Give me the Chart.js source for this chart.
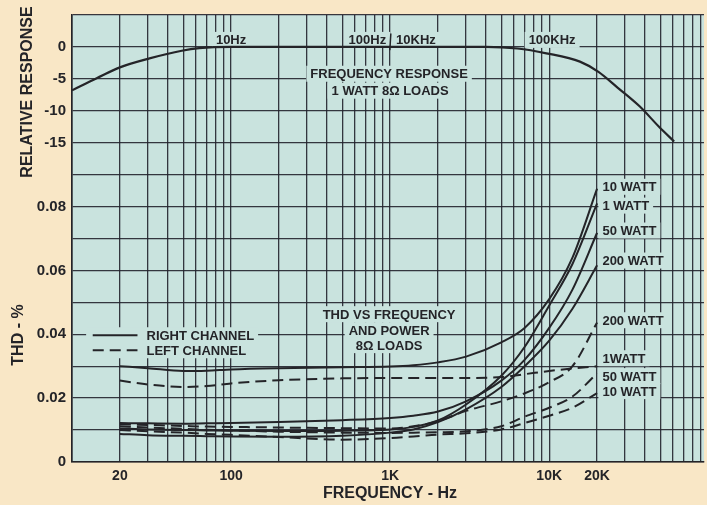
<!DOCTYPE html>
<html>
<head>
<meta charset="utf-8">
<script src="https://cdn.jsdelivr.net/npm/chart.js@4.4.1/dist/chart.umd.min.js"></script>
<style>
  html, body { margin: 0; padding: 0; background: #f9e7c6; }
  canvas { display: block; }
</style>
</head>
<body>
<canvas id="thdChart" width="707" height="505"></canvas>
<script>
// ---- data ----
// THD curves share one set of frequencies (Hz)
const thdFreq = [20, 30, 50, 70, 100, 200, 500, 1000, 1400, 2000, 3000, 5000, 7000, 10000, 14000, 20000];

// right channel (solid)
const right10W  = [0.0300, 0.0294, 0.0285, 0.0286, 0.0290, 0.0294, 0.0297, 0.0299, 0.0303, 0.0312, 0.0330, 0.0375, 0.0420, 0.0510, 0.0640, 0.0856];
const right1W   = [0.0105, 0.0102, 0.0100, 0.0099, 0.0098, 0.0097, 0.0098, 0.0102, 0.0110, 0.0130, 0.0180, 0.0270, 0.0360, 0.0490, 0.0620, 0.0810];
const right50W  = [0.0122, 0.0121, 0.0120, 0.0121, 0.0122, 0.0125, 0.0131, 0.0138, 0.0145, 0.0158, 0.0190, 0.0255, 0.0320, 0.0420, 0.0540, 0.0718];
const right200W = [0.0088, 0.0084, 0.0082, 0.0081, 0.0080, 0.0079, 0.0082, 0.0092, 0.0102, 0.0125, 0.0165, 0.0235, 0.0300, 0.0380, 0.0480, 0.0616];

// left channel (dashed)
const left1W    = [0.0255, 0.0243, 0.0235, 0.0238, 0.0246, 0.0256, 0.0262, 0.0263, 0.0263, 0.0263, 0.0263, 0.0266, 0.0275, 0.0285, 0.0293, 0.0300];
const left200W  = [0.0118, 0.0116, 0.0113, 0.0111, 0.0110, 0.0108, 0.0106, 0.0105, 0.0112, 0.0128, 0.0160, 0.0190, 0.0215, 0.0250, 0.0300, 0.0437];
const left50W   = [0.0112, 0.0108, 0.0104, 0.0101, 0.0099, 0.0095, 0.0092, 0.0091, 0.0092, 0.0093, 0.0096, 0.0112, 0.0142, 0.0170, 0.0205, 0.0278];
const left10W   = [0.0100, 0.0096, 0.0092, 0.0088, 0.0085, 0.0078, 0.0070, 0.0075, 0.0080, 0.0086, 0.0090, 0.0102, 0.0122, 0.0145, 0.0170, 0.0216];

// frequency response (top panel) - positions on the shared log axis, level in dB
const respPos = [10, 14.3, 20, 30.7, 49, 63, 100, 1000, 4000, 6300, 9600, 15600, 20400, 27000, 37000, 49000, 61000];
const respDb  = [-6.8, -4.9, -3.2, -1.8, -0.6, -0.2, 0, 0, 0, -0.25, -1.0, -2.3, -3.9, -6.4, -9.3, -12.5, -14.8];

// tick labels
const freqTickValues = [20, 100, 1000, 10000, 20000];
const freqTickText   = ['20', '100', '1K', '10K', '20K'];
const thdTickValues  = [0, 0.02, 0.04, 0.06, 0.08];
const thdTickText    = ['0', '0.02', '0.04', '0.06', '0.08'];
const dbTickValues   = [0, -5, -10, -15];
const dbTickText     = ['0', '-5', '-10', '-15'];

// ---- look ----
const ink = '#242428';
const gridInk = 'rgba(34,34,44,0.9)';
const paper = '#c9e3de';
const font = '"Liberation Sans", Arial, sans-serif';

// top panel sits on the same grid: 0 dB on the 0.13 line, 5 dB per division
function dbToY(db) { return 0.13 + db * 0.002; }

// log paper grid: 1..9 per decade
const freqGrid = [];
for (let d = 10; d <= 10000; d *= 10) {
  for (let m = 1; m <= 9; m++) freqGrid.push(d * m);
}
const yGrid = [];
for (let i = 0; i <= 14; i++) yGrid.push(i / 100);

function near(a, b) { return Math.abs(a - b) < 1e-9; }

function yLabel(v) {
  for (let i = 0; i < thdTickValues.length; i++) if (near(v, thdTickValues[i])) return thdTickText[i];
  for (let i = 0; i < dbTickValues.length; i++) if (near(v, dbToY(dbTickValues[i]))) return dbTickText[i];
  return '';
}

function series(values, dashed) {
  return {
    data: thdFreq.map((f, i) => ({ x: f, y: values[i] })),
    borderColor: ink,
    borderWidth: 2,
    borderDash: dashed ? [11, 6] : [],
    pointRadius: 0,
    fill: false,
    cubicInterpolationMode: 'monotone'
  };
}

// labels in data coordinates (frequency, y value)
const notes = [
  { text: '10Hz', f: 100, v: 0.1322, align: 'center' },
  { text: '100Hz', f: 944, v: 0.1322, align: 'right' },
  { text: '10KHz', f: 1090, v: 0.1322, align: 'left' },
  { text: '100KHz', f: 10430, v: 0.1322, align: 'center' },
  { text: 'FREQUENCY RESPONSE', f: 985, v: 0.1216, align: 'center' },
  { text: '1 WATT 8Ω LOADS', f: 1000, v: 0.1163, align: 'center' },
  { text: 'THD VS FREQUENCY', f: 985, v: 0.0463, align: 'center' },
  { text: 'AND POWER', f: 985, v: 0.0413, align: 'center' },
  { text: '8Ω LOADS', f: 985, v: 0.0366, align: 'center' },
  { text: 'RIGHT CHANNEL', f: 29.4, v: 0.0397, align: 'left', key: 'solid' },
  { text: 'LEFT CHANNEL', f: 29.4, v: 0.0350, align: 'left', key: 'dash' },
  { text: '10 WATT', f: 21600, v: 0.0862, align: 'left' },
  { text: '1 WATT', f: 21600, v: 0.0803, align: 'left' },
  { text: '50 WATT', f: 21600, v: 0.0725, align: 'left' },
  { text: '200 WATT', f: 21600, v: 0.0631, align: 'left' },
  { text: '200 WATT', f: 21600, v: 0.0444, align: 'left' },
  { text: '1WATT', f: 21600, v: 0.0325, align: 'left' },
  { text: '50 WATT', f: 21600, v: 0.0269, align: 'left' },
  { text: '10 WATT', f: 21600, v: 0.0222, align: 'left' }
];
const noteFont = 'bold 13px ' + font;

const paperPlugin = {
  id: 'paper',
  beforeDraw(chart) {
    const { ctx, chartArea: a } = chart;
    ctx.save();
    ctx.fillStyle = paper;
    ctx.fillRect(a.left, a.top, a.right - a.left, a.bottom - a.top);
    ctx.restore();
  },
  beforeDatasetsDraw(chart) {
    // knock the grid out behind the printed labels
    const { ctx, scales: { x, y } } = chart;
    ctx.save();
    ctx.fillStyle = paper;
    ctx.font = noteFont;
    notes.forEach(n => {
      const w = ctx.measureText(n.text).width;
      const px = x.getPixelForValue(n.f);
      const py = y.getPixelForValue(n.v);
      let left = n.align === 'center' ? px - w / 2 : n.align === 'right' ? px - w : px;
      let right = left + w;
      if (n.key) left = x.getPixelForValue(13);
      ctx.fillRect(left - 4, py - 8, right - left + 8, 16);
    });
    ctx.restore();
  },
  afterDatasetsDraw(chart) {
    const { ctx, scales: { x, y } } = chart;
    ctx.save();
    ctx.fillStyle = ink;
    ctx.strokeStyle = ink;
    ctx.textBaseline = 'middle';
    ctx.font = noteFont;
    notes.forEach(n => {
      ctx.textAlign = n.align;
      const py = y.getPixelForValue(n.v);
      ctx.fillText(n.text, x.getPixelForValue(n.f), py + 1);
      if (n.key) {
        ctx.lineWidth = 2;
        ctx.setLineDash(n.key === 'dash' ? [11, 6] : []);
        ctx.beginPath();
        ctx.moveTo(x.getPixelForValue(13.5), py);
        ctx.lineTo(x.getPixelForValue(25.8), py);
        ctx.stroke();
      }
    });
    ctx.setLineDash([]);
    // axis break between 100Hz and 10KHz
    ctx.lineWidth = 1.5;
    const bx = x.getPixelForValue(1010);
    ctx.beginPath();
    ctx.moveTo(bx, y.getPixelForValue(0.1342));
    ctx.lineTo(bx - 1, y.getPixelForValue(0.1290));
    ctx.stroke();

    // axis titles
    ctx.font = 'bold 16px ' + font;
    ctx.textAlign = 'center';
    ctx.fillText('FREQUENCY - Hz', 390, 494);
    ctx.save();
    ctx.translate(28, 92);
    ctx.rotate(-Math.PI / 2);
    ctx.fillText('RELATIVE RESPONSE', 0, 0);
    ctx.restore();
    ctx.save();
    ctx.translate(19, 335);
    ctx.rotate(-Math.PI / 2);
    ctx.fillText('THD - %', 0, 0);
    ctx.restore();
    ctx.restore();
  }
};

new Chart(document.getElementById('thdChart'), {
  type: 'line',
  data: {
    datasets: [
      series(right10W, false),
      series(right1W, false),
      series(right50W, false),
      series(right200W, false),
      series(left1W, true),
      series(left200W, true),
      series(left50W, true),
      series(left10W, true),
      {
        data: respPos.map((p, i) => ({ x: p, y: dbToY(respDb[i]) })),
        borderColor: ink,
        borderWidth: 2.2,
        pointRadius: 0,
        fill: false,
        cubicInterpolationMode: 'monotone'
      }
    ]
  },
  options: {
    responsive: false,
    animation: false,
    layout: { padding: { top: 15, left: 0, right: 0, bottom: 0 } },
    plugins: { legend: { display: false }, tooltip: { enabled: false } },
    scales: {
      x: {
        type: 'logarithmic',
        min: 10,
        max: 94000,
        afterBuildTicks: s => { s.ticks = freqGrid.map(v => ({ value: v })); },
        afterFit: s => { s.height = 43; },
        ticks: {
          autoSkip: false,
          maxRotation: 0,
          minRotation: 0,
          padding: 6,
          color: ink,
          font: { family: font, size: 14, weight: 'bold' },
          callback: v => {
            const i = freqTickValues.indexOf(v);
            return i >= 0 ? freqTickText[i] : '';
          }
        },
        grid: { color: gridInk, lineWidth: 1.3, drawTicks: false },
        border: { color: ink, width: 1.6 }
      },
      y: {
        type: 'linear',
        min: 0,
        max: 0.14,
        afterBuildTicks: s => { s.ticks = yGrid.map(v => ({ value: v })); },
        afterFit: s => { s.width = 72; },
        ticks: {
          autoSkip: false,
          padding: 6,
          color: ink,
          font: { family: font, size: 15, weight: 'bold' },
          callback: v => yLabel(v)
        },
        grid: { color: gridInk, lineWidth: 1.3, drawTicks: false },
        border: { color: ink, width: 1.6 }
      }
    }
  },
  plugins: [paperPlugin]
});
</script>
</body>
</html>
